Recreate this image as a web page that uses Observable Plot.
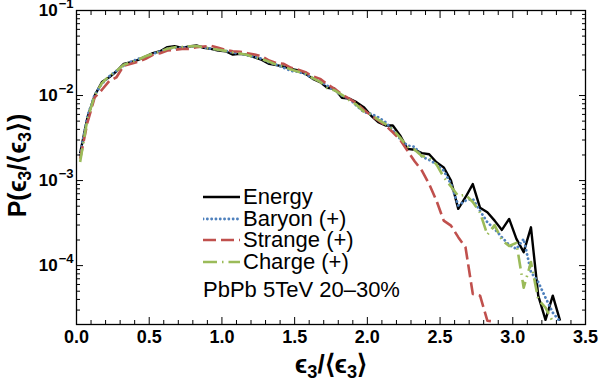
<!DOCTYPE html>
<html><head><meta charset="utf-8">
<script src="https://cdn.jsdelivr.net/npm/d3@7"></script>
<script src="https://cdn.jsdelivr.net/npm/@observablehq/plot@0.6"></script>
<style>
body{margin:0;background:#fff;font-family:"Liberation Sans",Arial,sans-serif;}
#wrap{position:relative;width:600px;height:384px;overflow:hidden;}
#legend{position:absolute;left:203px;top:186px;font-size:22px;color:#000;}
#legend .row{display:flex;align-items:center;height:21.7px;line-height:21.7px;white-space:nowrap;}
#legend .row svg{margin-right:3px;}
#legend .note{margin-top:6.5px;height:22px;line-height:22px;white-space:nowrap;}
</style></head><body><div id="wrap"></div>
<script>
// ---- data (bin centres of eps3/<eps3>) ----
const binCenters = [0.025,0.075,0.125,0.175,0.225,0.275,0.325,0.375,0.425,0.475,
  0.525,0.575,0.625,0.675,0.725,0.775,0.825,0.875,0.925,0.975,
  1.025,1.075,1.125,1.175,1.225,1.275,1.325,1.375,1.425,1.475,
  1.525,1.575,1.625,1.675,1.725,1.775,1.825,1.875,1.925,1.975,
  2.025,2.075,2.125,2.175,2.225,2.275,2.325,2.375,2.425,2.475,
  2.525,2.575,2.625,2.675,2.725,2.775,2.825,2.875,2.925,2.975,
  3.025,3.075,3.125,3.175,3.225,3.275,3.325];

const energy = [2.1e-3,5.5e-3,1.0e-2,1.44e-2,1.64e-2,1.93e-2,2.36e-2,2.47e-2,2.63e-2,2.88e-2,
  3.15e-2,3.32e-2,3.71e-2,3.80e-2,3.63e-2,3.77e-2,3.89e-2,3.64e-2,3.54e-2,3.38e-2,
  3.32e-2,3.03e-2,3.09e-2,3.01e-2,2.82e-2,2.63e-2,2.36e-2,2.28e-2,2.19e-2,2.06e-2,
  1.97e-2,1.80e-2,1.57e-2,1.44e-2,1.23e-2,1.20e-2,9.4e-3,9.2e-3,8.36e-3,7.3e-3,
  5.82e-3,4.86e-3,4.44e-3,4.44e-3,3.4e-3,2.36e-3,2.3e-3,2.1e-3,2.04e-3,1.64e-3,
  1.43e-3,1.0e-3,4.65e-4,6.37e-4,9.1e-4,4.78e-4,4.24e-4,3.38e-4,2.63e-4,3.54e-4,
  2.06e-4,1.44e-4,2.82e-4,4.43e-5,2.3e-5,4.43e-5,2.25e-5];

const baryon = [2.0e-3,5.7e-3,1.02e-2,1.38e-2,1.68e-2,1.95e-2,2.25e-2,2.5e-2,2.7e-2,2.85e-2,
  3.1e-2,3.3e-2,3.55e-2,3.65e-2,3.62e-2,3.75e-2,3.8e-2,3.7e-2,3.55e-2,3.45e-2,
  3.35e-2,3.2e-2,3.1e-2,2.95e-2,2.85e-2,2.7e-2,2.45e-2,2.3e-2,2.12e-2,1.95e-2,
  1.9e-2,1.78e-2,1.6e-2,1.48e-2,1.3e-2,1.15e-2,1.0e-2,9.2e-3,7.6e-3,6.4e-3,
  6.1e-3,5.55e-3,4.86e-3,3.9e-3,3.1e-3,2.58e-3,2.5e-3,1.92e-3,1.75e-3,1.56e-3,
  1.31e-3,9.1e-4,5.1e-4,5.8e-4,6.1e-4,4.4e-4,3.24e-4,2.7e-4,2.16e-4,1.75e-4,
  1.57e-4,2.06e-4,8.4e-5,6.4e-5,4.2e-5,2.8e-5,2.2e-5];

const strange = [1.8e-3,4.8e-3,9.5e-3,1.17e-2,1.48e-2,1.64e-2,2.25e-2,2.36e-2,2.51e-2,2.7e-2,
  3.01e-2,3.15e-2,3.38e-2,3.45e-2,3.54e-2,3.54e-2,3.71e-2,3.77e-2,3.84e-2,3.64e-2,
  3.45e-2,3.32e-2,3.27e-2,3.15e-2,3.03e-2,2.88e-2,2.58e-2,2.4e-2,2.36e-2,2.12e-2,
  2.01e-2,1.88e-2,1.68e-2,1.57e-2,1.35e-2,1.2e-2,1.03e-2,9.2e-3,8.13e-3,6.8e-3,
  5.82e-3,5.08e-3,4.44e-3,3.7e-3,3.02e-3,2.25e-3,1.69e-3,1.31e-3,9.1e-4,5.82e-4,
  3.38e-4,2.95e-4,2.16e-4,1.64e-4,4.65e-5,4.43e-5,2.25e-5,2.2e-5];

const charge = [1.65e-3,5.3e-3,1.0e-2,1.4e-2,1.7e-2,1.95e-2,2.3e-2,2.45e-2,2.65e-2,2.9e-2,
  3.1e-2,3.3e-2,3.55e-2,3.7e-2,3.72e-2,3.8e-2,3.82e-2,3.7e-2,3.55e-2,3.45e-2,
  3.35e-2,3.2e-2,3.12e-2,3.0e-2,2.8e-2,2.68e-2,2.5e-2,2.3e-2,2.2e-2,2.02e-2,
  1.9e-2,1.8e-2,1.6e-2,1.45e-2,1.22e-2,1.15e-2,1.02e-2,8.8e-3,7.8e-3,6.5e-3,
  6.0e-3,5.2e-3,4.6e-3,4.0e-3,3.2e-3,2.5e-3,2.3e-3,1.95e-3,1.85e-3,1.55e-3,
  1.1e-3,8.5e-4,6.6e-4,6.8e-4,5.6e-4,4.2e-4,2.3e-4,3.0e-4,2.0e-4,1.7e-4,
  1.85e-4,5.5e-5,1.1e-4,4.0e-5,3.2e-5,2.2e-5];

const seriesNames = ["Energy","Baryon (+)","Strange (+)","Charge (+)"];
const seriesColors = ["#000000","#4f81bd","#c0504d","#9bbb59"];
const seriesDash = [null,"0.1,4.2","13,5","14,5,1.5,5"];
const seriesWidth = [2.4,2.8,2.6,2.6];
const annotation = "PbPb 5TeV 20–30%";

const xTicks = [0,0.5,1,1.5,2,2.5,3,3.5];
const xTickLabels = ["0.0","0.5","1.0","1.5","2.0","2.5","3.0","3.5"];
const yTicks = [1e-1,1e-2,1e-3,1e-4];
const yTickExponents = ["−1","−2","−3","−4"];
const xLabel = "ϵ_3/⟨ϵ_3⟩";
const yLabel = "P(ϵ_3/⟨ϵ_3⟩)";

// ---- build table ----
const allSeries = [energy, baryon, strange, charge];
const rows = [];
allSeries.forEach((vals, s) => vals.forEach((v, i) => rows.push({x: binCenters[i], y: v, series: seriesNames[s]})));

const xMinor = d3.range(0, 3.51, 0.1).map(d => +d.toFixed(2)).filter(d => !xTicks.some(t => Math.abs(t - d) < 1e-9));
const yMinor = [];
for (let e = -5; e <= -2; e++) for (let m = 2; m <= 9; m++) yMinor.push(m * Math.pow(10, e));
const yDomain = [2.03e-5, 0.1];
const yMinorIn = yMinor.filter(v => v >= yDomain[0] && v <= yDomain[1]);

const xFmt = d => xTickLabels[xTicks.findIndex(t => Math.abs(t - d) < 1e-9)];
const yFmt = d => "10^" + yTickExponents[yTicks.findIndex(t => Math.abs(t - d) / t < 1e-6)];

const lineMarks = seriesNames.map((name, s) => Plot.line(rows.filter(r => r.series === name), {
  x: "x", y: "y", stroke: seriesColors[s], strokeWidth: seriesWidth[s],
  strokeDasharray: seriesDash[s], strokeLinecap: s === 1 ? "round" : "butt", strokeLinejoin: "round", clip: true
}));

const chart = Plot.plot({
  width: 600, height: 384,
  marginLeft: 76, marginRight: 15, marginTop: 10, marginBottom: 60,
  style: {fontFamily: "'Liberation Sans', Arial, sans-serif", background: "white", color: "black"},
  x: {domain: [0, 3.5]},
  y: {type: "log", domain: yDomain},
  marks: [
    ...lineMarks,
    Plot.frame({stroke: "black", strokeWidth: 1.3}),
    Plot.axisX(xTicks, {anchor: "bottom", tickSize: -7, tickPadding: 13, tickFormat: xFmt, fontSize: 18, fontWeight: "bold", label: null}),
    Plot.axisX(xMinor, {anchor: "bottom", tickSize: -4, text: null, label: null}),
    Plot.axisX(xTicks, {anchor: "top", tickSize: -7, text: null, label: null}),
    Plot.axisX(xMinor, {anchor: "top", tickSize: -4, text: null, label: null}),
    Plot.axisY(yTicks, {anchor: "left", tickSize: -7, tickPadding: 10, tickFormat: yFmt, fontSize: 17, fontWeight: "bold", label: null}),
    Plot.axisY(yMinorIn, {anchor: "left", tickSize: -4, text: null, label: null}),
    Plot.axisY(yTicks, {anchor: "right", tickSize: -7, text: null, label: null}),
    Plot.axisY(yMinorIn, {anchor: "right", tickSize: -4, text: null, label: null}),
    Plot.text([xLabel], {frameAnchor: "bottom", textAnchor: "middle", dy: 48, text: d => d, fontSize: 26, fontWeight: "bold"}),
    Plot.text([yLabel], {frameAnchor: "left", textAnchor: "middle", lineAnchor: "middle", dx: -59, dy: -2, rotate: -90, text: d => d, fontSize: 25, fontWeight: "bold"})
  ]
});

// rich text: superscripts and subscripts
const svg = d3.select(chart);
svg.selectAll("text").each(function() {
  const t = this.textContent;
  if (t.startsWith("10^")) {
    this.textContent = "10";
    d3.select(this).append("tspan").attr("dy", "-0.6em").attr("font-size", "13px").attr("dx", "1").text(t.slice(3));
  } else if (t.includes("_3")) {
    const parts = t.split("_3");
    this.textContent = "";
    const sel = d3.select(this);
    parts.forEach((p, i) => {
      if (i > 0) sel.append("tspan").attr("dy", "0.3em").attr("font-size", "0.7em").text("3");
      sel.append("tspan").attr("dy", i > 0 ? "-0.21em" : null).text(p);
    });
  }
});

const wrap = document.getElementById("wrap");
wrap.appendChild(chart);

// legend
const legend = document.createElement("div");
legend.id = "legend";
seriesNames.forEach((name, s) => {
  const row = document.createElement("div");
  row.className = "row";
  const ns = "http://www.w3.org/2000/svg";
  const sv = document.createElementNS(ns, "svg");
  sv.setAttribute("width", 37); sv.setAttribute("height", 10);
  const ln = document.createElementNS(ns, "line");
  ln.setAttribute("x1", 0); ln.setAttribute("x2", 37); ln.setAttribute("y1", 5); ln.setAttribute("y2", 5);
  ln.setAttribute("stroke", seriesColors[s]); ln.setAttribute("stroke-width", seriesWidth[s]);
  if (seriesDash[s]) ln.setAttribute("stroke-dasharray", seriesDash[s]);
  if (s === 1) ln.setAttribute("stroke-linecap", "round");
  sv.appendChild(ln);
  row.appendChild(sv);
  const sp = document.createElement("span");
  sp.textContent = name;
  row.appendChild(sp);
  legend.appendChild(row);
});
const note = document.createElement("div");
note.className = "note";
note.textContent = annotation;
legend.appendChild(note);
wrap.appendChild(legend);
</script></body></html>
